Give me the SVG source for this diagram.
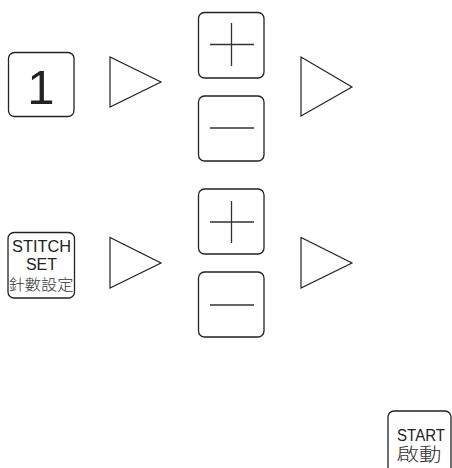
<svg xmlns="http://www.w3.org/2000/svg" width="452" height="468" viewBox="0 0 452 468">
<style>
.key{fill:#fff;stroke:#222;stroke-width:1.3}
.tri{fill:none;stroke:#222;stroke-width:1.2;stroke-linejoin:miter}
.sym{stroke:#333;stroke-width:1.3;fill:none}
.t{font-family:"Liberation Sans",Arial,sans-serif;fill:#222}
.cjk{font-family:"Noto Sans CJK TC","Noto Sans CJK SC",sans-serif;fill:#333;font-weight:300}
</style>
<rect width="452" height="468" fill="#fff"/>
<g id="key-1">
<rect class="key" x="8.5" y="52.5" width="65.5" height="64" rx="6"/>
<text class="t" x="41" y="103.5" font-size="49" text-anchor="middle">1</text>
</g>
<g id="key-plus-1">
<rect class="key" x="198.5" y="12.5" width="65.5" height="65.5" rx="6"/>
<path class="sym" d="M210 44.5H254M231.5 23V66"/>
</g>
<g id="key-minus-1">
<rect class="key" x="198.5" y="96" width="65.5" height="65" rx="6"/>
<path class="sym" d="M210 128H254"/>
</g>
<g id="key-stitch">
<rect class="key" x="8" y="232.5" width="66.5" height="65.5" rx="6"/>
<text class="t" x="41.5" y="251.5" font-size="16" text-anchor="middle" textLength="59" lengthAdjust="spacingAndGlyphs">STITCH</text>
<text class="t" x="41.5" y="269.5" font-size="16" text-anchor="middle">SET</text>
<text class="cjk" x="41" y="289.5" font-size="15" text-anchor="middle" textLength="65" lengthAdjust="spacingAndGlyphs">針數設定</text>
</g>
<g id="key-plus-2">
<rect class="key" x="198.5" y="189" width="65.5" height="65" rx="6"/>
<path class="sym" d="M210 222H254M231.5 201V243"/>
</g>
<g id="key-minus-2">
<rect class="key" x="198.5" y="272" width="65.5" height="65" rx="6"/>
<path class="sym" d="M210 305H254"/>
</g>
<g id="key-start">
<rect class="key" x="388" y="411" width="63" height="70" rx="6"/>
<text class="t" x="397" y="440.5" font-size="16" textLength="48" lengthAdjust="spacingAndGlyphs">START</text>
<text class="cjk" x="396.5" y="461" font-size="18" textLength="45" lengthAdjust="spacingAndGlyphs">啟動</text>
</g>
<g id="connectors">
<polygon class="tri" points="110,57 110,107 161,82"/>
<polygon class="tri" points="301,57 301,116 352,87"/>
<polygon class="tri" points="110,237.5 110,288 161,263"/>
<polygon class="tri" points="301,237.5 301,288 352,263"/>
</g>
</svg>
